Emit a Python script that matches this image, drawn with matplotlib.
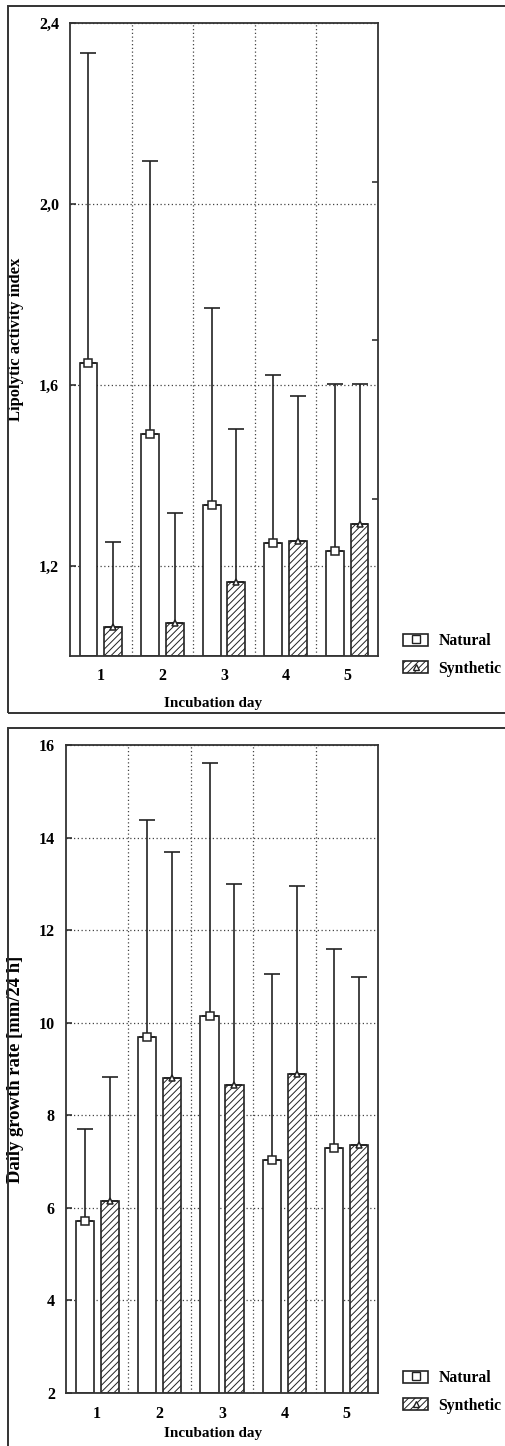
import matplotlib
matplotlib.use("Agg")
import matplotlib.pyplot as plt
from matplotlib.patches import Rectangle, Patch
from matplotlib.lines import Line2D
from matplotlib.legend_handler import HandlerTuple
from matplotlib.ticker import FixedLocator, FuncFormatter, NullFormatter
import numpy as np

days = [1, 2, 3, 4, 5]
series = ["Natural", "Synthetic"]

# lipolytic activity index
lipo_natural = [1.647, 1.492, 1.333, 1.251, 1.233]
lipo_natural_top = [2.334, 2.094, 1.769, 1.621, 1.601]
lipo_synthetic = [1.065, 1.074, 1.163, 1.255, 1.293]
lipo_synthetic_top = [1.253, 1.317, 1.501, 1.574, 1.601]
lipo_yticks = [1.2, 1.6, 2.0, 2.4]
lipo_right_ticks = [1.348, 1.698, 2.048]

# daily growth rate
growth_natural = [5.72, 9.69, 10.15, 7.04, 7.30]
growth_natural_top = [7.70, 14.38, 15.62, 11.05, 11.60]
growth_synthetic = [6.15, 8.80, 8.65, 8.90, 7.35]
growth_synthetic_top = [8.82, 13.68, 13.00, 12.95, 10.98]
growth_yticks = [2, 4, 6, 8, 10, 12, 14, 16]

plt.rcParams['font.family'] = ['Liberation Serif', 'DejaVu Serif']
plt.rcParams['font.weight'] = 'bold'
plt.rcParams['hatch.linewidth'] = 0.7
plt.rcParams['hatch.color'] = '#444444'

W, H = 506, 1446
fig = plt.figure(figsize=(W / 100, H / 100), dpi=100)

EDGE = '#222222'


def px_rect(x0, y0, x1, y1):
    return [x0 / W, 1 - y1 / H, (x1 - x0) / W, (y1 - y0) / H]


def draw_panel(ax, nat, nat_top, syn, syn_top, ylim, yticks, ylabel, ylabel_size, fmt):
    x = np.array(days, dtype=float)
    off, bw = 0.2, 0.29
    bottom = ylim[0]
    nat_h = np.array(nat) - bottom
    syn_h = np.array(syn) - bottom
    ax.bar(x - off, nat_h, bw, bottom=bottom, color='white', edgecolor=EDGE,
           linewidth=1.2, zorder=2)
    ax.bar(x + off, syn_h, bw, bottom=bottom, color='white', edgecolor=EDGE,
           linewidth=1.2, hatch='/////', zorder=2)
    for xs, m, top, mk, ms in [(x - off, nat, nat_top, 's', 6),
                               (x + off, syn, syn_top, '^', 5)]:
        m = np.array(m)
        err = [np.zeros_like(m), np.array(top) - m]
        ax.errorbar(xs, m, yerr=err, fmt='none', ecolor=EDGE, elinewidth=1.2,
                    capsize=6, capthick=1.2, zorder=3)
        ax.plot(xs, m, linestyle='none', marker=mk, markersize=ms,
                markerfacecolor='white', markeredgecolor=EDGE,
                markeredgewidth=1.1, zorder=4)

    ax.set_xlim(0.5, 5.5)
    ax.set_ylim(*ylim)
    ax.set_xticks(days)
    ax.xaxis.set_minor_locator(FixedLocator([1.5, 2.5, 3.5, 4.5]))
    ax.set_yticks(yticks)
    ax.yaxis.set_major_formatter(FuncFormatter(fmt))
    ax.grid(True, which='minor', axis='x', linestyle=(0, (1, 2)), color='#444444', linewidth=0.9)
    ax.grid(True, which='major', axis='y', linestyle=(0, (1, 2)), color='#444444', linewidth=0.9)
    ax.set_axisbelow(True)
    ax.tick_params(axis='x', which='both', length=0, pad=9, labelsize=11.5)
    ax.tick_params(axis='y', which='major', direction='in', length=4, width=1.1,
                   pad=8, labelsize=11.5, colors=EDGE, labelcolor='black')
    for s in ax.spines.values():
        s.set_linewidth(1.3)
        s.set_color('#333333')
    for lab in ax.get_xticklabels() + ax.get_yticklabels():
        lab.set_fontweight('bold')

    ax.set_ylabel(ylabel, fontsize=ylabel_size, fontweight='bold')
    ax.set_xlabel('Incubation day', fontsize=10.9, fontweight='bold')


def legend_for(ax, anchor):
    handles = [
        (Patch(facecolor='white', edgecolor=EDGE, linewidth=1.2),
         Line2D([], [], linestyle='none', marker='s', markersize=6,
                markerfacecolor='white', markeredgecolor=EDGE)),
        (Patch(facecolor='white', edgecolor=EDGE, linewidth=1.2, hatch='/////'),
         Line2D([], [], linestyle='none', marker='^', markersize=5,
                markerfacecolor='white', markeredgecolor=EDGE)),
    ]
    leg = ax.legend(handles, series, handler_map={tuple: HandlerTuple(ndivide=1)},
                    loc='upper left', bbox_to_anchor=anchor, bbox_transform=fig.transFigure,
                    frameon=False, borderpad=0, borderaxespad=0,
                    handlelength=1.6, handleheight=0.8, labelspacing=0.75,
                    handletextpad=0.65, prop={'weight': 'bold', 'size': 11.3})
    return leg


# panel frames
fig.patches.append(Rectangle((8 / W, 1 - 713 / H), 1.0, (713 - 6) / H,
                             transform=fig.transFigure, fill=False,
                             edgecolor='#333333', linewidth=1.4))
fig.patches.append(Rectangle((8 / W, -0.01), 1.0, 1 - 728 / H + 0.01,
                             transform=fig.transFigure, fill=False,
                             edgecolor='#333333', linewidth=1.4))

ax1 = fig.add_axes(px_rect(70, 23, 378, 656))
draw_panel(ax1, lipo_natural, lipo_natural_top, lipo_synthetic, lipo_synthetic_top,
           (1.0, 2.4), lipo_yticks, 'Lipolytic activity index', 12,
           lambda v, p: f'{v:.1f}'.replace('.', ','))
ax1.yaxis.set_label_coords(-0.15, 0.5)
ax1.xaxis.set_label_coords(0.464, -0.065)
ax1.yaxis.set_minor_locator(FixedLocator(lipo_right_ticks))
ax1.yaxis.set_minor_formatter(NullFormatter())
ax1.tick_params(axis='y', which='minor', left=False, right=True, direction='in',
                length=4, width=1.1, colors=EDGE)
legend_for(ax1, (403 / W, 1 - 633 / H))

ax2 = fig.add_axes(px_rect(66, 745, 378, 1393))
draw_panel(ax2, growth_natural, growth_natural_top, growth_synthetic, growth_synthetic_top,
           (2, 16), growth_yticks, 'Daily growth rate [mm/24 h]', 13.4,
           lambda v, p: f'{v:.0f}')
ax2.yaxis.set_label_coords(-0.136, 0.5)
ax2.xaxis.set_label_coords(0.471, -0.052)
legend_for(ax2, (403 / W, 1 - 1370 / H))

fig.savefig('out.png', dpi=100)
